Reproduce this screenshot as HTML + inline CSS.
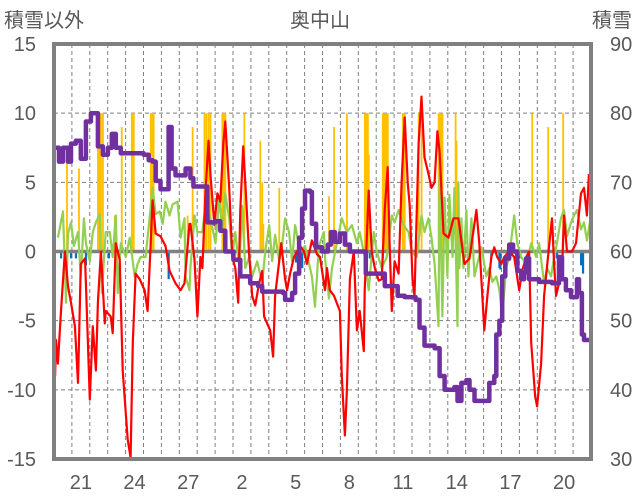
<!DOCTYPE html>
<html><head><meta charset="utf-8"><style>
html,body{margin:0;padding:0;background:#fff;}
svg{display:block;font-family:"Liberation Sans","Noto Sans CJK JP",sans-serif;}
</style></head><body>
<svg id="chart" width="636" height="501" viewBox="0 0 636 501">
<text x="4" y="27" font-size="20" fill="#595959">積雪以外</text>
<text x="320" y="27" font-size="20" fill="#595959" text-anchor="middle">奥中山</text>
<text x="632" y="27" font-size="20" fill="#595959" text-anchor="end">積雪</text>
<g id="grid"></g><g id="bars"></g><g id="lines"></g><g id="axes"></g>
</svg>
<script>
const leftTicks=[15,10,5,0,-5,-10,-15];
const rightTicks=[90,80,70,60,50,40,30];
const xTickLabels=["21","24","27","2","5","8","11","14","17","20"];
const xTickDays=[1,4,7,10,13,16,19,22,25,28];
const redT=[0.06,0.11,0.22,0.39,0.61,0.78,0.95,1.17,1.34,1.50,1.73,1.78,2.00,2.17,2.34,2.45,2.62,2.84,2.89,3.17,3.28,3.45,3.67,3.84,4.01,4.12,4.28,4.40,4.56,4.79,5.06,5.23,5.40,5.51,5.68,5.95,6.23,6.46,6.79,7.07,7.29,7.57,7.62,7.85,8.01,8.18,8.29,8.46,8.63,8.74,8.96,9.13,9.29,9.46,9.57,9.79,9.96,10.13,10.29,10.41,10.57,10.68,10.91,11.07,11.24,11.46,11.63,11.74,12.08,12.24,12.35,12.58,12.69,12.91,13.02,13.19,13.41,13.75,13.97,14.13,14.41,14.69,14.86,15.14,15.25,15.41,15.64,15.97,16.08,16.25,16.36,16.53,16.75,16.92,17.08,17.31,17.36,17.58,17.75,17.92,18.14,18.31,18.48,18.64,18.75,18.87,19.03,19.25,19.42,19.59,19.76,19.87,20.03,20.14,20.37,20.53,20.70,20.92,21.09,21.26,21.42,21.54,21.76,22.04,22.32,22.59,22.93,23.21,23.60,23.76,24.04,24.21,24.43,24.60,24.76,24.99,25.15,25.43,25.71,25.99,26.15,26.38,26.54,26.66,26.88,26.99,27.21,27.38,27.66,27.82,27.94,28.05,28.21,28.38,28.49,28.66,28.94,29.16,29.44,29.61,29.77,29.88];
const redV=[-9,-6.4,-8.1,-4.3,0,-2.5,-3.7,-5.4,-9.5,-0.9,-0.5,-2.3,-10.7,-5.4,-8.6,-3.7,0,-5.2,-4.3,-4.7,-5.9,0.6,-0.6,-8.6,-11.7,-13.6,-14.9,-6.6,-1.6,-2,-2.8,-4.3,0.6,3.7,1.3,1.1,0.4,-1.4,-2.3,-2.8,-2.3,2,2,-0.6,-4.7,-0.4,-1.2,4.2,8,5.6,1.9,4.2,3.6,7.8,9.4,4.6,-0.4,-1.2,-3.7,3,7.6,5.1,-0.4,-3.2,-3.9,-2.3,-1.4,-4.7,-5.7,-7.6,-3.2,-0.7,0.6,-2,-2.8,-1.6,-0.4,0.4,0,-0.9,0.8,-0.2,-0.4,-2.8,-1.2,-2.8,-3.2,-4.3,-9,-13.3,-10.2,-2,0,-5.7,-4.3,-7.2,-2.8,4.4,0,-1.2,-2.1,-2,3.1,6.1,0.6,-4.3,-0.7,-1.6,5,9.7,5,3.3,-2,-3.2,7.8,11.2,6.8,5.6,4.6,5,8.7,7.2,1.3,1,2.4,2.4,-0.9,-0.5,3,0.6,-5.7,-3.2,-0.4,0.3,-0.4,-0.9,-0.4,0,-0.4,-2.8,-1.4,-0.4,0,-6.6,-10.5,-11.2,-8.1,-3.2,0.4,2.4,-0.9,-3.2,-2.3,-1.4,2.6,0,0,0.6,4.2,4.6,2.6,5.6];
const greenT=[0.22,0.50,0.67,0.78,0.95,1.11,1.34,1.50,1.67,1.78,2.00,2.17,2.34,2.56,2.67,2.89,3.12,3.28,3.45,3.56,3.73,4.01,4.23,4.51,4.67,4.84,5.12,5.34,5.51,5.68,5.90,6.07,6.23,6.46,6.62,6.90,7.07,7.29,7.35,7.57,7.62,7.85,8.01,8.29,8.46,8.74,9.02,9.24,9.40,9.57,9.79,9.96,10.13,10.35,10.51,10.68,10.91,11.07,11.35,11.63,11.80,12.02,12.19,12.35,12.58,12.74,12.91,13.13,13.30,13.47,13.75,14.02,14.41,14.58,14.80,15.08,15.14,15.36,15.53,15.80,16.08,16.36,16.64,16.92,17.08,17.36,17.58,17.86,18.03,18.31,18.59,18.87,19.03,19.25,19.53,19.81,19.98,20.26,20.53,20.70,20.92,21.09,21.26,21.48,21.54,21.70,21.82,21.98,22.09,22.26,22.37,22.54,22.59,22.65,22.76,22.87,23.04,23.15,23.32,23.49,23.65,23.88,24.15,24.32,24.49,24.71,24.88,25.04,25.26,25.43,25.60,25.71,25.88,26.10,26.38,26.66,26.94,27.10,27.38,27.55,27.77,27.94,28.10,28.32,28.49,28.66,28.88,29.05,29.22,29.44,29.61,29.77,29.94];
const greenV=[1,2.9,-3.7,1.3,2.1,0.4,1.4,-1.8,2.4,0.6,-0.7,1.4,2.1,2.7,-3,1.4,1.4,-0.4,2.6,-3,0.6,-0.4,1,-1.8,-0.9,-0.4,-0.4,2.4,4.6,2.7,2.9,2,3.6,2.6,3.4,3.6,1,2.4,-1.8,-2.8,-1.2,2.6,1.4,1.4,3.4,2.4,0.6,3.9,1.4,4.2,2.4,-0.4,1.4,-1.2,3.3,-1.2,-0.4,-1.8,-0.7,-2.3,0,1.9,-0.7,1.2,-0.7,0.4,2.4,1.4,-0.7,1.9,0,0.4,-1.8,-4,0.4,1.4,-0.4,-3.4,-1.2,0.6,2.4,1.4,1.9,0.6,1.4,-0.4,-2.8,1.4,0,-1.2,-0.4,2.6,2.1,3,1.9,1.4,0,-0.4,2.6,1.4,2.4,1,-0.9,-5.4,5.6,-4.7,3.9,-1.8,4.1,-0.4,4.6,-5.4,5,-1.2,2.4,-1.2,3,-1.8,2.4,-1.8,-0.9,0.3,-1.8,-1.2,-2.2,-1.8,-2.8,-4.7,-1.2,-0.4,1.4,2.6,0.6,-0.4,-0.9,0.6,-0.4,0.6,-2.3,-1.2,-1.8,-0.4,0.6,2.4,3,1.1,2.1,2.6,3,1.6,2.1,0.8,2.1];
const snowT=[0,0.28,0.50,0.78,0.95,1.22,1.50,1.78,2.06,2.23,2.45,2.73,3.01,3.23,3.45,3.73,5.01,5.29,5.51,5.68,5.95,6.29,6.40,6.57,6.79,7.18,7.35,7.62,7.79,8.46,8.57,9.02,9.29,9.57,10.02,10.41,10.96,11.41,11.63,12.80,12.91,13.19,13.30,13.47,13.69,13.86,14.02,14.30,14.41,14.64,14.97,15.30,15.47,15.69,15.97,16.25,16.53,17.25,17.42,17.75,18.48,18.75,19.20,19.59,20.20,20.42,20.70,21.26,21.54,21.82,22.37,22.54,22.76,23.04,23.21,23.49,24.04,24.32,24.60,24.71,24.88,25.04,25.21,25.43,25.65,25.88,26.10,26.27,26.38,26.54,27.10,27.82,28.10,28.21,28.38,28.60,28.88,29.22,29.33,29.49,29.61,30.00];
const snowV=[75,73,75,73,75.6,76,73.4,78.8,80,80,75.2,74,75,77,75,74.2,74,73.2,73,70.2,69,69,78,72,71,71,72,70.6,69.4,69.4,64.2,64.4,63,60,58.8,56.4,55.4,55,54.2,54,53,53,54,56.8,62,66.2,68.8,68.6,64,60.6,60,61,62.8,61.4,62.6,61,60,60,56.8,56.8,55,55,53.6,53.4,53,49,46.4,46,42,40,40.4,38.4,41,41.4,40,38.4,38.4,41,42,48,50,56.4,59,61,60,57.2,56,57,59,56,55.6,55.4,55.4,59.2,56,54.4,53.4,56,54,48,47.2,47.2];
const precipT=[0.72,1.39,2.45,2.50,2.56,2.62,2.73,3.39,3.78,4.34,4.40,4.45,5.40,5.45,5.51,5.56,7.46,7.74,8.40,8.51,8.63,8.74,9.40,9.46,9.51,9.57,10.63,11.52,11.57,11.63,11.69,12.58,15.36,15.64,16.36,17.36,17.42,17.47,17.53,17.58,18.36,18.42,18.48,18.53,18.59,18.64,19.48,19.53,19.59,20.37,20.53,21.48,21.54,21.59,21.65,21.70,22.43,22.48,26.71,27.60,28.44];
const precipV=[6.5,6,10,10,10,10,10,2.6,9,10,10,10,10,10,10,10,2.6,9,10,10,10,10,10,10,10,10,10,8,2,5,2,4.6,4,9,10,10,10,10,10,7,10,10,10,10,10,10,10,10,10,10,10,10,10,10,10,10,10,8,10,9,10];
const blueT=[0.39,0.95,1.22,1.78,3.06,6.40,13.30,13.52,13.63,13.75,13.86,17.64,18.36,24.43,24.88,24.93,25.43,25.99,28.10,29.44,29.55];
const blueV=[-0.5,-0.5,-0.5,-1,-0.5,-2,-0.5,-0.8,-1.2,-1.5,-1.2,-0.5,-0.5,-0.5,-1.2,-1.3,-0.7,-0.5,-0.5,-1,-1.6];

const NS='http://www.w3.org/2000/svg';
const PL=54,PT=44,PW=537,PH=415,DAYS=30;
const xs=d=>PL+d*PW/DAYS;
const yL=v=>PT+(15-v)*PH/30;
const yR=v=>PT+(90-v)*PH/60;
function mk(tag,attrs,parent){const e=document.createElementNS(NS,tag);for(const k in attrs)e.setAttribute(k,attrs[k]);parent.appendChild(e);return e;}
const grid=document.getElementById('grid'),bars=document.getElementById('bars'),lines=document.getElementById('lines'),axes=document.getElementById('axes');
for(let d=1;d<DAYS;d++){const l=mk('line',{x1:xs(d),x2:xs(d),y1:PT,y2:PT+PH,stroke:'#7f7f7f','stroke-width':1,'stroke-dasharray':'4 3'},grid);

}
leftTicks.forEach(v=>{if(v!==0&&Math.abs(v)!==15){const l=mk('line',{x1:PL,x2:PL+PW,y1:yL(v),y2:yL(v),stroke:'#7f7f7f','stroke-width':1,'stroke-dasharray':'4 3'},grid);

}});
precipT.forEach((t,i)=>{const y1=yL(precipV[i]),y0=yL(0);const r=mk('rect',{x:xs(t)-0.8,y:y1,width:1.8,height:y0-y1,fill:'#FFC000'},bars);

});
blueT.forEach((t,i)=>{const y0=yL(0),y1=yL(blueV[i]);const r=mk('rect',{x:xs(t)-1,y:y0,width:2.2,height:y1-y0,fill:'#0070C0'},bars);

});
const zl=mk('line',{x1:PL,x2:PL+PW,y1:yL(0),y2:yL(0),stroke:'#808080','stroke-width':3.5},bars);


function path(T,V,yf,color,w,name,step){let d='';
T.forEach((t,i)=>{const x=xs(t).toFixed(1),y=yf(V[i]).toFixed(1);
if(i===0)d+='M'+x+','+y;else if(step)d+='H'+x+'V'+y;else d+='L'+x+','+y;});
const p=mk('path',{d:d,fill:'none',stroke:color,'stroke-width':w,'stroke-linejoin':'round'},lines);

}
path(greenT,greenV,yL,'#92D050',2.2,'green-series-line',false);
path(redT,redV,yL,'#FF0000',2.2,'red-series-line',false);
path(snowT,snowV,yR,'#7030A0',4.5,'snow-depth-line',true);
const fr=mk('rect',{x:PL,y:PT,width:PW,height:PH,fill:'none',stroke:'#808080','stroke-width':4},axes);


leftTicks.forEach(v=>{const t=mk('text',{x:36,y:yL(v)+7,'font-size':20,fill:'#595959','text-anchor':'end'},axes);t.textContent=v;

});
rightTicks.forEach(v=>{const t=mk('text',{x:610,y:yR(v)+7,'font-size':20,fill:'#595959'},axes);t.textContent=v;

});
xTickLabels.forEach((s,i)=>{const t=mk('text',{x:xs(xTickDays[i]+0.5),y:489,'font-size':20,fill:'#595959','text-anchor':'middle'},axes);t.textContent=s;

});
</script>
</body></html>
